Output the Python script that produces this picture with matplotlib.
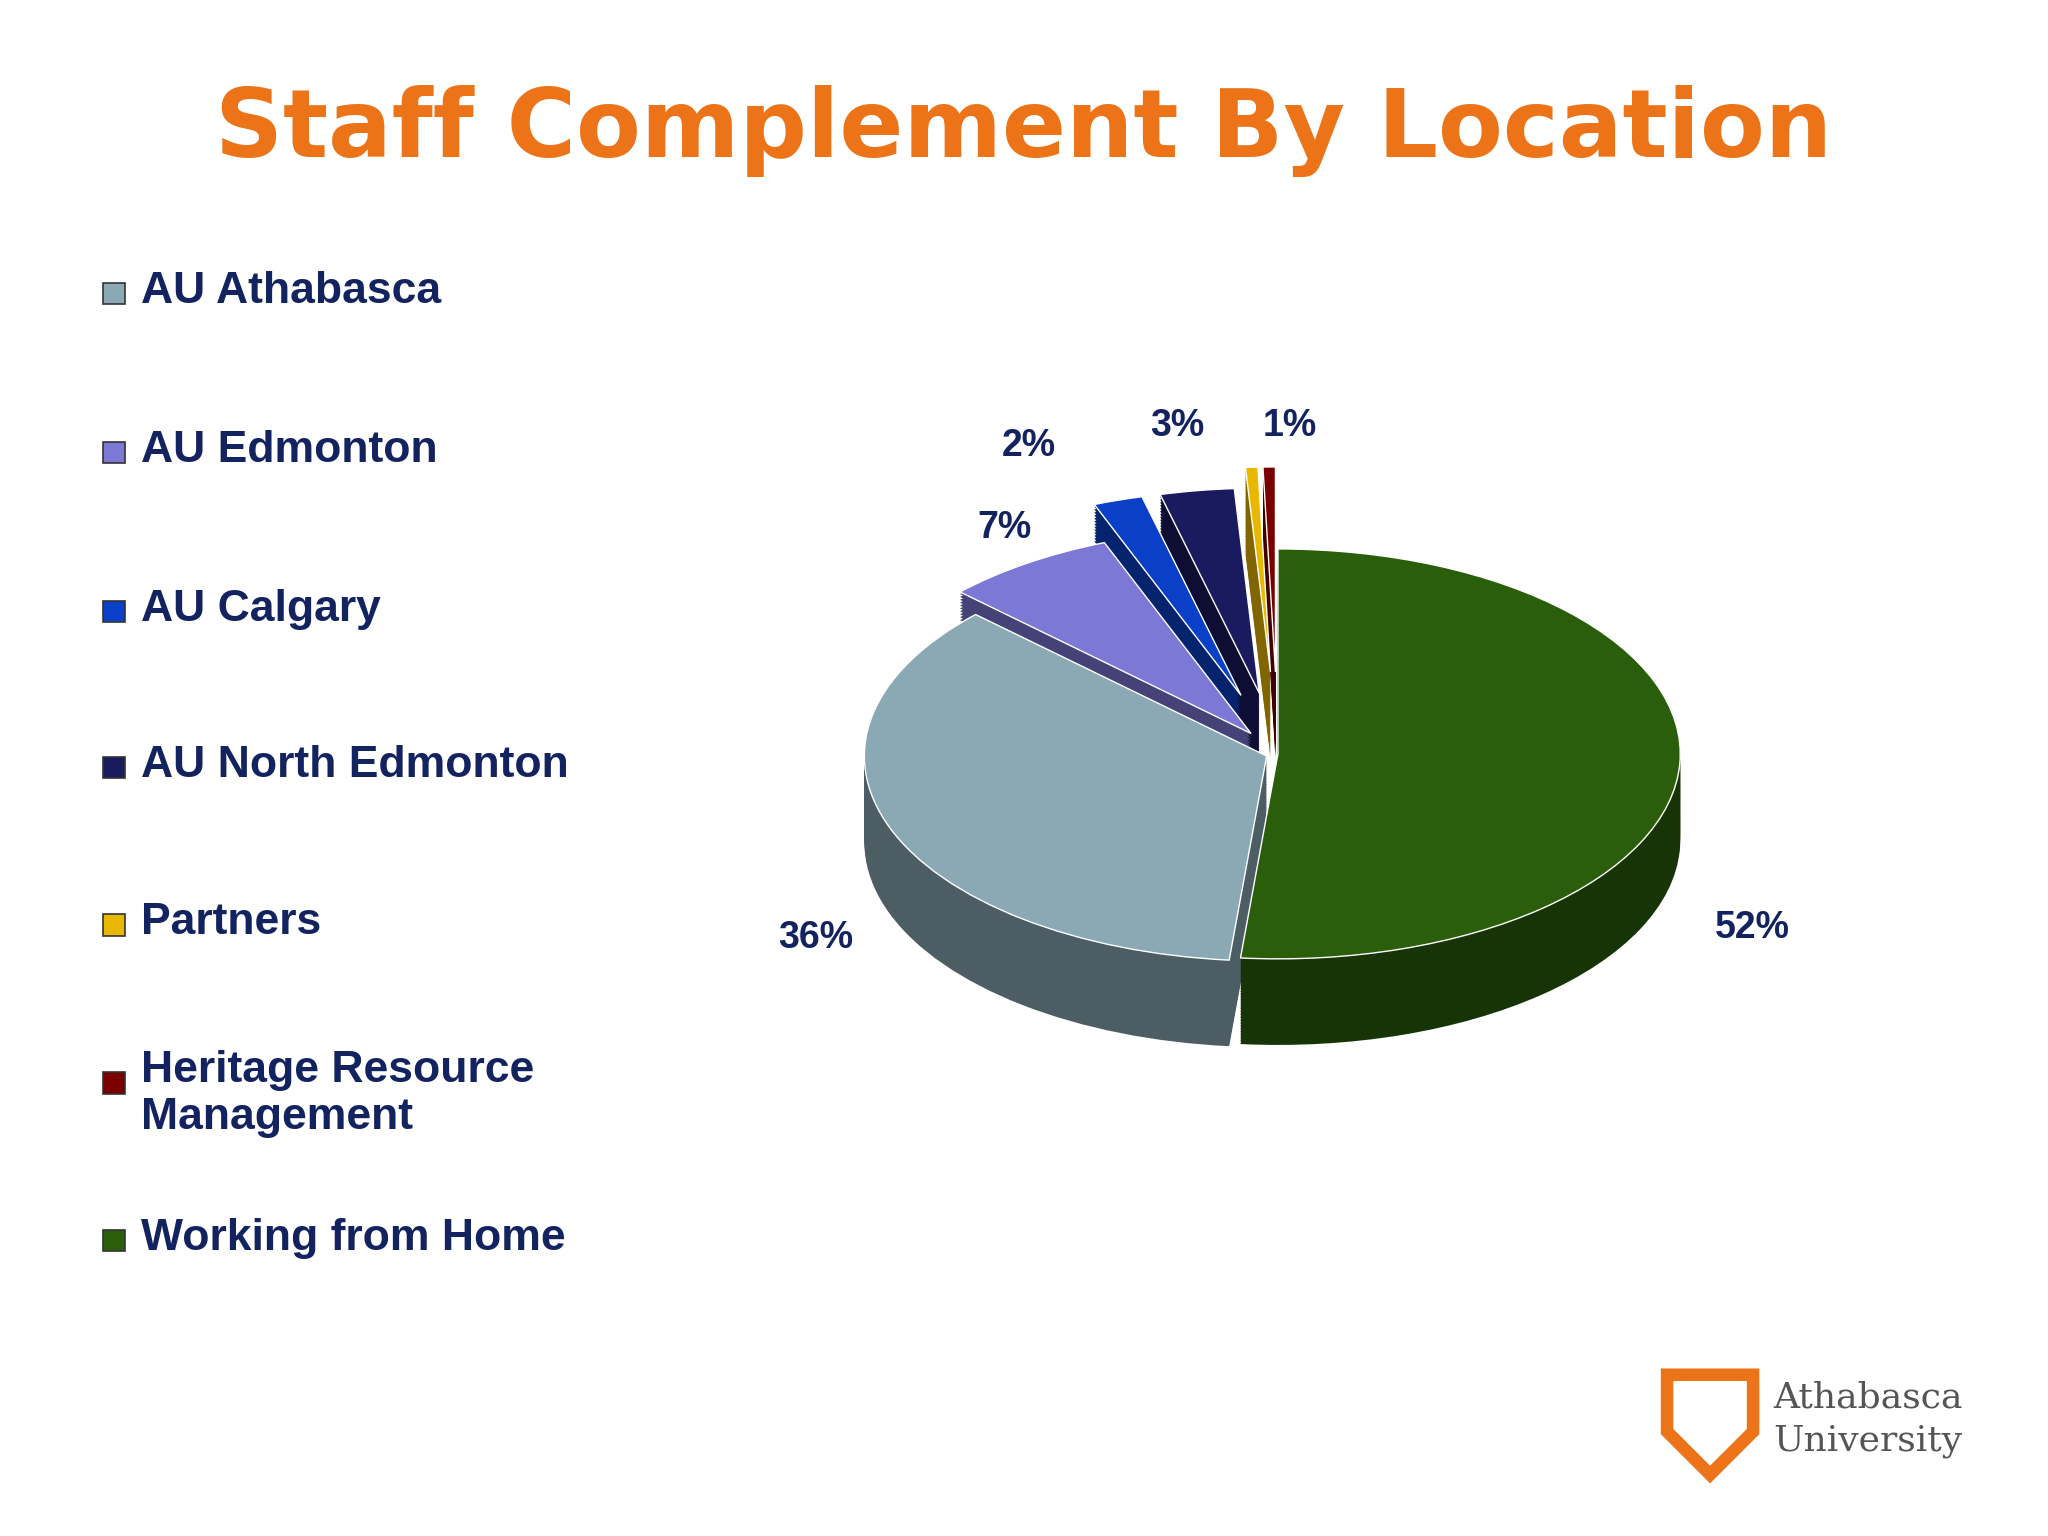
import matplotlib
matplotlib.use("Agg")
import matplotlib.pyplot as plt
import numpy as np
from matplotlib.colors import to_rgb
from matplotlib.patches import Polygon, Rectangle

categories = ["Working from Home", "AU Athabasca", "AU Edmonton", "AU Calgary",
              "AU North Edmonton", "Partners", "Heritage Resource\nManagement"]
values = [52, 36, 7, 2, 3, 0.5, 0.5]
labels = ["52%", "36%", "7%", "2%", "3%", "", "1%"]
colors = ["#2a5e0a", "#8aa9b5", "#7b78d6", "#0a3fc8", "#1a1a5e", "#e8b800", "#7a0000"]
explode = [0.0, 0.03, 0.12, 0.3, 0.3, 0.4, 0.4]
legend_order = ["AU Athabasca", "AU Edmonton", "AU Calgary", "AU North Edmonton",
                "Partners", "Heritage Resource\nManagement", "Working from Home"]

navy = "#13235f"
LS = "Liberation Sans"
fig = plt.figure(figsize=(20.48, 15.36), dpi=100)
fig.text(0.5, 0.915, "Staff Complement By Location", ha="center", va="center",
         fontsize=68, fontweight="bold", color="#ec7318", family="DejaVu Sans")

ax = fig.add_axes([0.349, 0.269, 0.55, 0.427])
depth = 0.42
dark = [tuple(c * 0.55 for c in to_rgb(col)) for col in colors]
for d in np.linspace(depth, 0.01, 30):
    ax.pie(values, colors=dark, startangle=90, counterclock=False, explode=explode,
           center=(0, -d), wedgeprops=dict(linewidth=0))
wedges, _ = ax.pie(values, colors=colors, startangle=90, counterclock=False, explode=explode,
                   wedgeprops=dict(linewidth=1, edgecolor="white"))
ax.set_aspect("auto")
ax.set_xlim(-1.4, 1.4)
ax.set_ylim(-1.8, 1.4)
ax.axis("off")

pos = {0: (1.18, -0.85), 1: (-1.15, -0.9), 2: (-0.68, 1.1), 3: (-0.62, 1.5),
       4: (-0.25, 1.6), 6: (0.03, 1.6)}
for i, lab in enumerate(labels):
    if not lab:
        continue
    x, y = pos[i]
    ax.text(x, y, lab, ha="center", va="center", fontsize=27, fontweight="bold",
            color=navy, family=LS)

ys = [220, 340, 460, 578, 697, 816, 935]
for name, yp in zip(legend_order, ys):
    col = colors[categories.index(name)]
    yf = 1 - yp / 1160
    fig.patches.append(Rectangle((0.0505, yf - 0.0085), 0.0105, 0.014, transform=fig.transFigure,
                                 facecolor=col, edgecolor="#333333", linewidth=1.2))
    if "\n" in name:
        fig.text(0.069, yf + 0.02, name, ha="left", va="top", fontsize=32,
                 fontweight="bold", color=navy, linespacing=1.2, family=LS)
    else:
        fig.text(0.069, yf, name, ha="left", va="center", fontsize=32,
                 fontweight="bold", color=navy, family=LS)

# logo
shield = Polygon([[0.814, 0.105], [0.814, 0.068], [0.835, 0.040], [0.856, 0.068], [0.856, 0.105]],
                 closed=True, transform=fig.transFigure, facecolor="none",
                 edgecolor="#ec7318", linewidth=9)
fig.patches.append(shield)
fig.text(0.866, 0.090, "Athabasca", fontsize=26, family="DejaVu Serif", color="#555555", va="center")
fig.text(0.866, 0.062, "University", fontsize=26, family="DejaVu Serif", color="#555555", va="center")

fig.savefig("out.png", dpi=100)
